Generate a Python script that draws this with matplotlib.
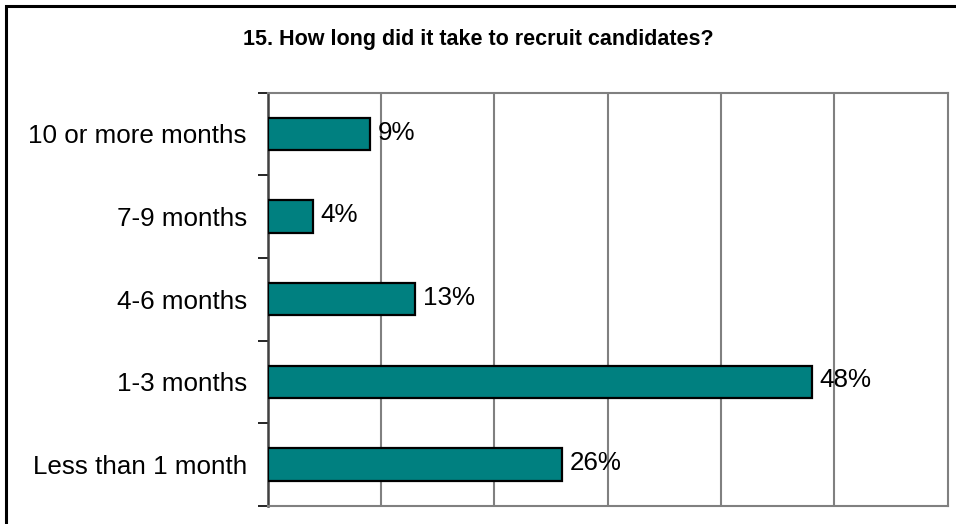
import matplotlib.pyplot as plt
from matplotlib.patches import Rectangle

categories = ["Less than 1 month", "1-3 months", "4-6 months", "7-9 months", "10 or more months"]
shares = [26, 48, 13, 4, 9]
value_labels = ["26%", "48%", "13%", "4%", "9%"]

plt.rcParams['font.family'] = ['Liberation Sans', 'DejaVu Sans']

fig = plt.figure(figsize=(9.56, 5.24), dpi=100)
ax = fig.add_axes([0.2800, 0.0349, 0.7113, 0.7882])

# outer frame (only top and left edges fall inside the image)
fig.patches.append(Rectangle((6 / 956, -0.1), 1.2, 1 - 6 / 524 + 0.1,
                             transform=fig.transFigure, fill=False,
                             edgecolor='black', linewidth=2.2))

ypos = range(len(categories))
ax.barh(ypos, shares, height=0.39, color='#008080', edgecolor='black',
        linewidth=1.6, zorder=3)
for y, v, lab in zip(ypos, shares, value_labels):
    ax.annotate(lab, (v, y), xytext=(5.5, 1), textcoords='offset points',
                ha='left', va='center', fontsize=18.7, zorder=4)

ax.set_xlim(0, 60)
ax.set_ylim(-0.5, len(categories) - 0.5)
ax.set_xticks([10, 20, 30, 40, 50])
ax.set_xticklabels([])
ax.tick_params(axis='x', length=0)
ax.grid(axis='x', color='#808080', linewidth=1.5, zorder=0)

ax.set_yticks(list(ypos))
ax.set_yticklabels(categories, fontsize=18.7)
ax.tick_params(axis='y', which='major', length=0, pad=15)
ax.set_yticks([i - 0.5 for i in range(len(categories) + 1)], minor=True)
ax.tick_params(axis='y', which='minor', length=7, width=1.2, color='black')

for side in ['top', 'right', 'bottom']:
    ax.spines[side].set_color('#808080')
    ax.spines[side].set_linewidth(1.5)
ax.spines['left'].set_color('#404040')
ax.spines['left'].set_linewidth(1.8)

fig.text(0.5, 0.924, "15. How long did it take to recruit candidates?",
         ha='center', va='center', fontsize=15.5, fontweight='bold')

fig.savefig('out.png', dpi=100)
